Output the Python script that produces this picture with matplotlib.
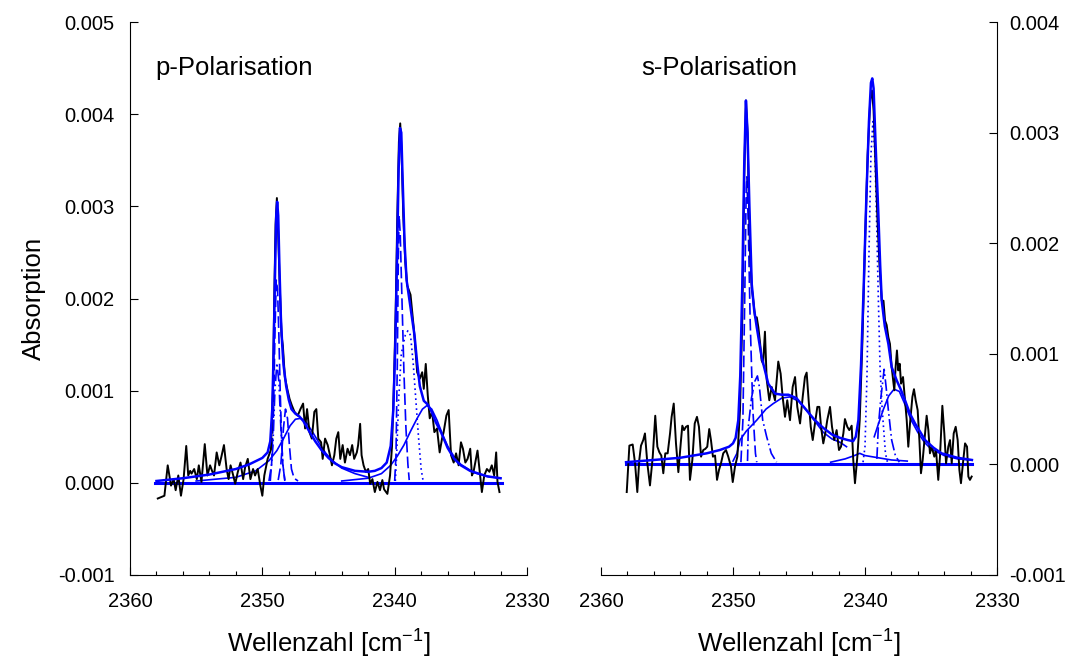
import matplotlib
matplotlib.use("Agg")
import matplotlib.pyplot as plt
from matplotlib.ticker import MultipleLocator, FormatStrFormatter

plt.rcParams['font.family'] = ['Liberation Sans', 'DejaVu Sans']
plt.rcParams['mathtext.fontset'] = 'custom'
plt.rcParams['mathtext.rm'] = 'Liberation Sans'

BLUE = '#0000ff'

# ---------------- p-Polarisation: measured spectrum ----------------
p_wn = [2357.9, 2357.4, 2357.15, 2356.9, 2356.7, 2356.55, 2356.35, 2356.15, 2355.95, 2355.75,
        2355.6, 2355.45, 2355.35, 2355.15, 2354.95, 2354.8, 2354.6, 2354.35, 2354.15, 2353.95,
        2353.8, 2353.65, 2353.45, 2353.25, 2353.1, 2352.9, 2352.7, 2352.55, 2352.4, 2352.2,
        2352.05, 2351.85, 2351.65, 2351.45, 2351.3, 2351.1, 2350.9, 2350.7, 2350.55, 2350.35,
        2350.15, 2350.0, 2349.85, 2349.6, 2349.35, 2349.2, 2349.1, 2349.0, 2348.9, 2348.8,
        2348.7, 2348.55, 2348.45, 2348.3, 2348.12, 2347.94, 2347.77, 2347.57, 2347.32, 2347.12,
        2346.92, 2346.77, 2346.62, 2346.44, 2346.26, 2346.07, 2345.92, 2345.77, 2345.56, 2345.44,
        2345.26, 2345.06, 2344.89, 2344.74, 2344.56, 2344.41, 2344.26, 2344.11, 2343.93, 2343.76,
        2343.56, 2343.38, 2343.21, 2343.06, 2342.86, 2342.76, 2342.61, 2342.5, 2342.35, 2342.18,
        2342.0, 2341.85, 2341.68, 2341.5, 2341.3, 2341.11, 2340.93, 2340.8, 2340.55, 2340.35,
        2340.2, 2340.05, 2339.92, 2339.8, 2339.68, 2339.58, 2339.48, 2339.35, 2339.2, 2339.05,
        2338.8, 2338.55, 2338.3, 2338.1, 2337.92, 2337.8, 2337.65, 2337.5, 2337.35, 2337.17,
        2337.0, 2336.8, 2336.6, 2336.42, 2336.3, 2336.09, 2335.92, 2335.74, 2335.54, 2335.36,
        2335.17, 2334.99, 2334.84, 2334.66, 2334.49, 2334.29, 2334.16, 2334.04, 2333.86, 2333.74,
        2333.59, 2333.41, 2333.23, 2333.03, 2332.84, 2332.66, 2332.48, 2332.33, 2332.23, 2332.08]
p_abs = [-0.00017, -0.00014, 0.00019, -0.00003, 0.00004, -0.00008, 0.00008, -0.00014, 0.00004, 0.00040,
         0.00008, 0.00013, 0.00010, 0.00015, 0.00004, 0.00019, 0.00001, 0.00042, 0.00008, 0.00019,
         0.00013, 0.00008, 0.00033, 0.00019, 0.00028, 0.00041, 0.00015, 0.00004, 0.00019, 0.00008,
         -0.00001, 0.00012, 0.00022, 0.00004, 0.00017, 0.00026, 0.00004, 0.00015, 0.00008, 0.00015,
         -0.00003, -0.00014, 0.00008, 0.00026, 0.00036, 0.0010, 0.0020, 0.0028, 0.00309, 0.0027,
         0.0022, 0.0016, 0.00149, 0.00115, 0.00102, 0.00091, 0.00084, 0.00077, 0.00073, 0.0008,
         0.00086, 0.00059, 0.0008, 0.00055, 0.00048, 0.00077, 0.0008, 0.00048, 0.00044, 0.00026,
         0.00048, 0.00041, 0.0003, 0.00019, 0.0003, 0.00048, 0.00055, 0.00026, 0.00041, 0.00022,
         0.00037, 0.0003, 0.00041, 0.00026, 0.00033, 0.00041, 0.00064, 0.0003, 0.00019, 0.00012,
         0.00015, -0.00001, 0.00004, -0.0001, 0.00001, -0.00008, 0.00003, -0.00007, -0.00012, 0.00008,
         0.0004, 0.0011, 0.0019, 0.0029, 0.0037, 0.0039, 0.0036, 0.0029, 0.0024, 0.00214,
         0.00204, 0.00167, 0.0012, 0.00113, 0.0012, 0.00102, 0.00129, 0.00095, 0.0007, 0.00077,
         0.00055, 0.00059, 0.00033, 0.00048, 0.00055, 0.00073, 0.00079, 0.0003, 0.00022, 0.00032,
         0.00019, 0.00044, 0.00037, 0.00022, 0.00026, 0.00037, 0.00008, 0.00012, 0.00026, 0.00035,
         0.00015, -0.0001, 0.00008, 0.00015, 0.00012, 0.00019, 0.00008, 0.00033, 0.00001, -0.0001]

# p-Polarisation: fit sum and fit components
p_fit_wn = [2358.0, 2356.0, 2354.0, 2352.0, 2351.0, 2350.0, 2349.6, 2349.4, 2349.25, 2349.15,
            2349.05, 2348.95, 2348.88, 2348.8, 2348.7, 2348.6, 2348.5, 2348.4, 2348.2, 2348.0,
            2347.8, 2347.5, 2347.2, 2346.9, 2346.5, 2346.0, 2345.5, 2345.0, 2344.5, 2344.0,
            2343.0, 2342.0, 2341.5, 2341.0, 2340.6, 2340.3, 2340.1, 2339.95, 2339.8, 2339.7,
            2339.6, 2339.5, 2339.4, 2339.25, 2339.1, 2338.9, 2338.7, 2338.5, 2338.3, 2338.1,
            2337.8, 2337.5, 2337.2, 2336.9, 2336.5, 2336.0, 2335.5, 2335.0, 2334.3, 2333.0, 2332.0]
p_fit = [0.00002, 0.00005, 0.00009, 0.00015, 0.00020, 0.00027, 0.00033, 0.00045, 0.0008, 0.0014,
         0.0022, 0.0029, 0.00305, 0.0029, 0.0023, 0.0018, 0.0015, 0.00128, 0.00105, 0.00090,
         0.00080, 0.00075, 0.00072, 0.00067, 0.00057, 0.00045, 0.00035, 0.00027, 0.00021, 0.00017,
         0.00013, 0.00012, 0.00013, 0.00016, 0.00022, 0.0004, 0.0008, 0.0015, 0.0026, 0.0034,
         0.00385, 0.0038, 0.0033, 0.0026, 0.0022, 0.0020, 0.0018, 0.0016, 0.0013, 0.00105,
         0.00089, 0.00085, 0.00077, 0.00066, 0.00055, 0.00038, 0.00026, 0.00019, 0.00013, 0.00007, 0.00005]

p_c1_wn = [2349.5, 2349.3, 2349.15, 2349.05, 2348.95, 2348.85, 2348.75, 2348.65, 2348.55, 2348.45, 2348.3]
p_c1 = [0.00002, 0.0002, 0.0008, 0.0016, 0.0022, 0.0021, 0.0016, 0.0010, 0.0005, 0.0002, 0.00003]

p_c2_wn = [2349.4, 2349.2, 2349.05, 2348.9, 2348.75, 2348.6, 2348.45, 2348.3]
p_c2 = [0.00002, 0.0004, 0.0010, 0.0013, 0.0011, 0.0006, 0.0002, 0.00002]

p_c3_wn = [2355.0, 2352.0, 2350.5, 2349.5, 2348.9, 2348.4, 2347.9, 2347.5, 2347.1, 2346.7,
           2346.2, 2345.7, 2345.2, 2344.7, 2344.0, 2343.0, 2342.0]
p_c3 = [0.00002, 0.00006, 0.00013, 0.00024, 0.00035, 0.00048, 0.00062, 0.00069, 0.0007, 0.00066,
        0.00055, 0.00043, 0.00032, 0.00024, 0.00016, 0.0001, 0.00006]

p_c4_wn = [2348.8, 2348.6, 2348.4, 2348.25, 2348.1, 2347.95, 2347.8, 2347.6, 2347.3]
p_c4 = [0.00003, 0.0002, 0.0006, 0.0008, 0.0007, 0.0004, 0.00015, 0.00005, 0.00002]

p_c5_wn = [2340.0, 2339.9, 2339.8, 2339.72, 2339.66, 2339.58, 2339.45, 2339.3, 2339.15, 2339.0, 2338.9]
p_c5 = [0.00002, 0.0003, 0.0013, 0.0025, 0.0029, 0.0027, 0.0020, 0.0012, 0.0006, 0.0002, 0.00003]

p_c6_wn = [2339.95, 2339.85, 2339.7, 2339.5, 2339.2, 2339.0, 2338.8, 2338.6, 2338.4, 2338.2, 2338.0, 2337.85]
p_c6 = [0.00002, 0.0003, 0.0009, 0.0014, 0.0016, 0.00165, 0.0016, 0.0013, 0.0009, 0.0005, 0.00015, 0.00002]

p_c7_wn = [2344.0, 2342.0, 2341.0, 2340.3, 2339.8, 2339.3, 2338.8, 2338.3, 2337.9, 2337.55,
           2337.2, 2336.8, 2336.4, 2336.0, 2335.5, 2335.0, 2334.0, 2333.0, 2332.0]
p_c7 = [0.00002, 0.00005, 0.0001, 0.00019, 0.00029, 0.00041, 0.00056, 0.0007, 0.0008, 0.00084,
        0.0008, 0.00068, 0.00053, 0.0004, 0.00028, 0.0002, 0.00011, 0.00007, 0.00005]

# ---------------- s-Polarisation: measured spectrum ----------------
s_wn = [2358.05, 2357.85, 2357.6, 2357.42, 2357.25, 2357.1, 2356.97, 2356.8, 2356.67, 2356.49,
        2356.29, 2356.08, 2355.89, 2355.73, 2355.58, 2355.43, 2355.28, 2355.13, 2354.95, 2354.77,
        2354.65, 2354.49, 2354.32, 2354.14, 2353.96, 2353.84, 2353.71, 2353.56, 2353.41, 2353.26,
        2353.08, 2352.9, 2352.73, 2352.58, 2352.42, 2352.25, 2352.1, 2351.95, 2351.8, 2351.67,
        2351.52, 2351.36, 2351.21, 2351.06, 2350.91, 2350.74, 2350.53, 2350.36, 2350.15, 2350.02,
        2349.85, 2349.67, 2349.47, 2349.3, 2349.15, 2349.02, 2348.9, 2348.8, 2348.71, 2348.58,
        2348.46, 2348.33, 2348.2, 2348.08, 2347.95, 2347.83, 2347.72, 2347.58, 2347.45, 2347.25,
        2347.07, 2346.82, 2346.57, 2346.39, 2346.24, 2346.06, 2345.89, 2345.68, 2345.48, 2345.3,
        2345.13, 2344.92, 2344.72, 2344.55, 2344.42, 2344.27, 2344.11, 2343.96, 2343.79, 2343.61,
        2343.46, 2343.33, 2343.16, 2343.01, 2342.86, 2342.65, 2342.5, 2342.33, 2342.15, 2341.97,
        2341.82, 2341.64, 2341.52, 2341.34, 2341.19, 2341.01, 2340.89, 2340.76, 2340.58, 2340.4,
        2340.2, 2340.0, 2339.8, 2339.6, 2339.47, 2339.35, 2339.2, 2339.05, 2338.9, 2338.73,
        2338.6, 2338.48, 2338.36, 2338.23, 2338.11, 2337.98, 2337.78, 2337.68, 2337.58, 2337.48,
        2337.37, 2337.27, 2337.12, 2336.97, 2336.84, 2336.72, 2336.59, 2336.41, 2336.29, 2336.16,
        2336.01, 2335.88, 2335.76, 2335.63, 2335.45, 2335.33, 2335.2, 2335.08, 2334.95, 2334.75,
        2334.62, 2334.45, 2334.32, 2334.14, 2333.99, 2333.86, 2333.69, 2333.56, 2333.43, 2333.28,
        2333.13, 2332.98, 2332.85, 2332.73, 2332.58, 2332.42, 2332.27, 2332.17, 2332.05, 2331.92]
s_abs = [-0.00025, 0.00017, 0.00018, 0.00001, -0.00025, 0.00004, 0.00017, 0.00022, 0.00028, 0.00001,
         -0.00019, 0.00007, 0.00044, 0.00016, 0.00011, 0.00008, -0.00008, 0.0001, 0.0001, 0.00028,
         0.00043, 0.00055, 0.00019, -0.00007, 0.00019, 0.00035, 0.00031, 0.00034, 0.00035, -0.00014,
         0.00004, 0.00037, 0.00043, 0.00034, 0.00007, 0.00013, 0.00014, 0.00016, 0.00032, 0.00022,
         0.00007, 0.00008, -0.00014, -0.00005, 0.00001, 0.0001, 0.00013, 0.00007, -0.00002, -0.00016,
         -0.00002, 0.00007, 0.00049, 0.0013, 0.0026, 0.00329, 0.0030, 0.0024, 0.00193, 0.0016,
         0.00148, 0.00133, 0.00133, 0.00124, 0.0011, 0.00094, 0.00091, 0.0012, 0.00077, 0.00058,
         0.0007, 0.00058, 0.00093, 0.00082, 0.00061, 0.00043, 0.00058, 0.0004, 0.0007, 0.00079,
         0.00052, 0.00037, 0.00061, 0.00079, 0.00083, 0.00058, 0.00034, 0.00022, 0.00037, 0.00052,
         0.00052, 0.00034, 0.00019, 0.00028, 0.0004, 0.00052, 0.00034, 0.00022, 0.00031, 0.00013,
         0.00016, 0.00028, 0.00041, 0.00034, 0.00031, 0.00035, 0.00004, -0.00017, 0.00007, 0.0004,
         0.0011, 0.0020, 0.0028, 0.0033, 0.00338, 0.0032, 0.0027, 0.0022, 0.0018, 0.00148,
         0.00148, 0.0013, 0.00126, 0.00115, 0.00109, 0.00088, 0.00067, 0.00088, 0.00103, 0.00085,
         0.00091, 0.00073, 0.00079, 0.00058, 0.0004, 0.00016, 0.00037, 0.00061, 0.00068, 0.00058,
         0.00049, 0.00022, -0.00008, 0.00004, 0.00028, 0.00044, 0.00031, 0.0001, 0.00016, 0.00007,
         0.00013, -0.00014, 0.00007, 0.00053, 0.00028, 0.00001, 0.00016, 0.00022, 0.00001, 0.00028,
         0.00034, 0.00022, -0.00005, -0.00017, 0.00001, 0.00019, 0.00016, -0.00011, -0.00014, -0.00011]

# s-Polarisation: fit sum and fit components
s_fit_wn = [2358.1, 2356.0, 2354.0, 2352.0, 2351.0, 2350.3, 2350.0, 2349.8, 2349.6, 2349.45,
            2349.3, 2349.15, 2349.02, 2348.9, 2348.75, 2348.58, 2348.4, 2348.2, 2347.83, 2347.33,
            2346.82, 2346.3, 2345.8, 2345.2, 2344.5, 2343.8, 2343.16, 2342.5, 2341.9, 2341.3,
            2340.9, 2340.7, 2340.5, 2340.3, 2340.1, 2339.9, 2339.7, 2339.55, 2339.45, 2339.35,
            2339.2, 2339.0, 2338.85, 2338.73, 2338.5, 2338.23, 2337.98, 2337.6, 2337.3, 2336.97,
            2336.6, 2336.21, 2335.8, 2335.45, 2334.8, 2334.2, 2333.0, 2331.9]
s_fit = [0.00002, 0.00004, 0.00006, 0.0001, 0.00013, 0.00016, 0.00019, 0.00024, 0.0004, 0.0008,
         0.0016, 0.0027, 0.00329, 0.0030, 0.0023, 0.00163, 0.0014, 0.00124, 0.00097, 0.00073,
         0.00064, 0.00063, 0.00063, 0.0006, 0.0005, 0.0004, 0.00033, 0.00027, 0.00024, 0.00022,
         0.00021, 0.00025, 0.0004, 0.0009, 0.0016, 0.0024, 0.0031, 0.00345, 0.00349, 0.0034,
         0.0029, 0.0023, 0.0018, 0.00148, 0.00125, 0.00109, 0.00088, 0.00076, 0.00068, 0.00058,
         0.00046, 0.00037, 0.00029, 0.00022, 0.00015, 0.0001, 0.00006, 0.00004]

s_c1_wn = [2349.4, 2349.25, 2349.1, 2349.0, 2348.95, 2348.85, 2348.7, 2348.5, 2348.3, 2348.2]
s_c1 = [0.00002, 0.0004, 0.0016, 0.0025, 0.0026, 0.0022, 0.0013, 0.0005, 0.0001, 0.00002]

s_c2_wn = [2348.9, 2348.84, 2348.6, 2348.35, 2348.15, 2348.0, 2347.75, 2347.45, 2347.1, 2346.7]
s_c2 = [0.00003, 0.00034, 0.0006, 0.00075, 0.0008, 0.0007, 0.0004, 0.00025, 0.0001, 0.00002]

s_c3_wn = [2350.0, 2349.7, 2349.47, 2349.0, 2348.2, 2347.5, 2346.95, 2346.3, 2345.7, 2345.0,
           2344.3, 2343.6, 2343.16, 2342.5, 2341.89, 2341.4]
s_c3 = [0.00003, 0.0001, 0.00022, 0.0003, 0.0004, 0.0005, 0.00055, 0.0006, 0.00061, 0.00057,
        0.00047, 0.00036, 0.00029, 0.00023, 0.0002, 0.00016]

s_c4_wn = [2340.15, 2340.0, 2339.85, 2339.7, 2339.55, 2339.4, 2339.25, 2339.1, 2338.99, 2338.86,
           2338.7, 2338.6, 2338.45, 2338.3]
s_c4 = [0.00002, 0.00016, 0.0008, 0.0019, 0.0028, 0.0031, 0.0028, 0.0021, 0.0015, 0.00088,
        0.0005, 0.00034, 0.0001, 0.00002]

s_c5_wn = [2339.1, 2338.99, 2338.8, 2338.55, 2338.4, 2338.23, 2337.98, 2337.7, 2337.4]
s_c5 = [0.00005, 0.00034, 0.0006, 0.00086, 0.0007, 0.00049, 0.00022, 0.00008, 0.00002]

s_c6_wn = [2339.3, 2339.0, 2338.6, 2338.2, 2337.8, 2337.4, 2337.0, 2336.5, 2336.0, 2335.5,
           2335.0, 2334.0, 2333.0, 2332.0]
s_c6 = [0.00025, 0.00036, 0.0005, 0.00062, 0.00068, 0.00066, 0.00055, 0.0004, 0.00029, 0.0002,
        0.00014, 0.00008, 0.00005, 0.00004]

s_c7_wn = [2342.6, 2341.5, 2340.8, 2340.4, 2340.0, 2339.0, 2338.0, 2336.8]
s_c7 = [0.00002, 0.00005, 0.00008, 0.0001, 0.00008, 0.00006, 0.00004, 0.00003]

base_wn = [2358.1, 2331.9]
base = [0.0, 0.0]

dash = (0, (7, 2.5))
dashdot = (0, (7, 2, 1, 2))
dashdotdot = (0, (7, 2, 1, 2, 1, 2))
dot = (0, (1, 2))

fig = plt.figure(figsize=(10.73, 6.65), dpi=100)
ax1 = fig.add_axes([130 / 1073, 90 / 665, 397 / 1073, 553 / 665])
ax2 = fig.add_axes([601 / 1073, 90 / 665, 396 / 1073, 553 / 665])

# left panel
ax1.plot(base_wn, base, color=BLUE, lw=2.2)
ax1.plot(p_c1_wn, p_c1, color=BLUE, lw=1.2, ls=dash)
ax1.plot(p_c2_wn, p_c2, color=BLUE, lw=1.2, ls=dashdotdot)
ax1.plot(p_c3_wn, p_c3, color=BLUE, lw=1.2)
ax1.plot(p_c4_wn, p_c4, color=BLUE, lw=1.2, ls=dash)
ax1.plot(p_c5_wn, p_c5, color=BLUE, lw=1.2, ls=dash)
ax1.plot(p_c6_wn, p_c6, color=BLUE, lw=1.2, ls=dot)
ax1.plot(p_c7_wn, p_c7, color=BLUE, lw=1.2)
ax1.plot(p_wn, p_abs, color='black', lw=1.4)
ax1.plot(p_fit_wn, p_fit, color=BLUE, lw=1.8)

# right panel
ax2.plot(base_wn, base, color=BLUE, lw=2.2)
ax2.plot(s_c1_wn, s_c1, color=BLUE, lw=1.2, ls=dash)
ax2.plot(s_c2_wn, s_c2, color=BLUE, lw=1.2, ls=dashdot)
ax2.plot(s_c3_wn, s_c3, color=BLUE, lw=1.2)
ax2.plot(s_c4_wn, s_c4, color=BLUE, lw=1.2, ls=dot)
ax2.plot(s_c5_wn, s_c5, color=BLUE, lw=1.2, ls=dashdot)
ax2.plot(s_c6_wn, s_c6, color=BLUE, lw=1.2)
ax2.plot(s_c7_wn, s_c7, color=BLUE, lw=1.2)
ax2.plot(s_wn, s_abs, color='black', lw=1.4)
ax2.plot(s_fit_wn, s_fit, color=BLUE, lw=1.8)

for ax in (ax1, ax2):
    ax.set_xlim(2360, 2330)
    ax.xaxis.set_major_locator(MultipleLocator(10))
    ax.xaxis.set_minor_locator(MultipleLocator(2))
    ax.spines['top'].set_visible(False)
    ax.tick_params(axis='both', which='major', direction='in', length=6, width=0.8,
                   labelsize=14.5)
    ax.tick_params(axis='x', which='minor', direction='in', length=3, width=0.8)
    ax.tick_params(axis='x', which='major', pad=12)
    ax.yaxis.set_major_formatter(FormatStrFormatter('%.3f'))
    ax.set_xlabel('Wellenzahl [cm$^{\\mathregular{-1}}$]', fontsize=18.5, labelpad=11)
    ax.xaxis.set_major_formatter(FormatStrFormatter('%d'))

ax1.spines['right'].set_visible(False)
ax1.set_ylim(-0.001, 0.005)
ax1.yaxis.set_major_locator(MultipleLocator(0.001))
ax1.tick_params(axis='y', pad=11)
ax1.set_ylabel('Absorption', fontsize=18.5, labelpad=9)
ax1.text(0.063, 0.917, 'p-Polarisation', transform=ax1.transAxes, fontsize=18.5,
         va='center', ha='left')

ax2.spines['left'].set_visible(False)
ax2.set_ylim(-0.001, 0.004)
ax2.yaxis.set_major_locator(MultipleLocator(0.001))
ax2.yaxis.tick_right()
ax2.tick_params(axis='y', pad=9)
ax2.text(0.101, 0.917, 's-Polarisation', transform=ax2.transAxes, fontsize=18.5,
         va='center', ha='left')

fig.savefig('out.png', dpi=100)
